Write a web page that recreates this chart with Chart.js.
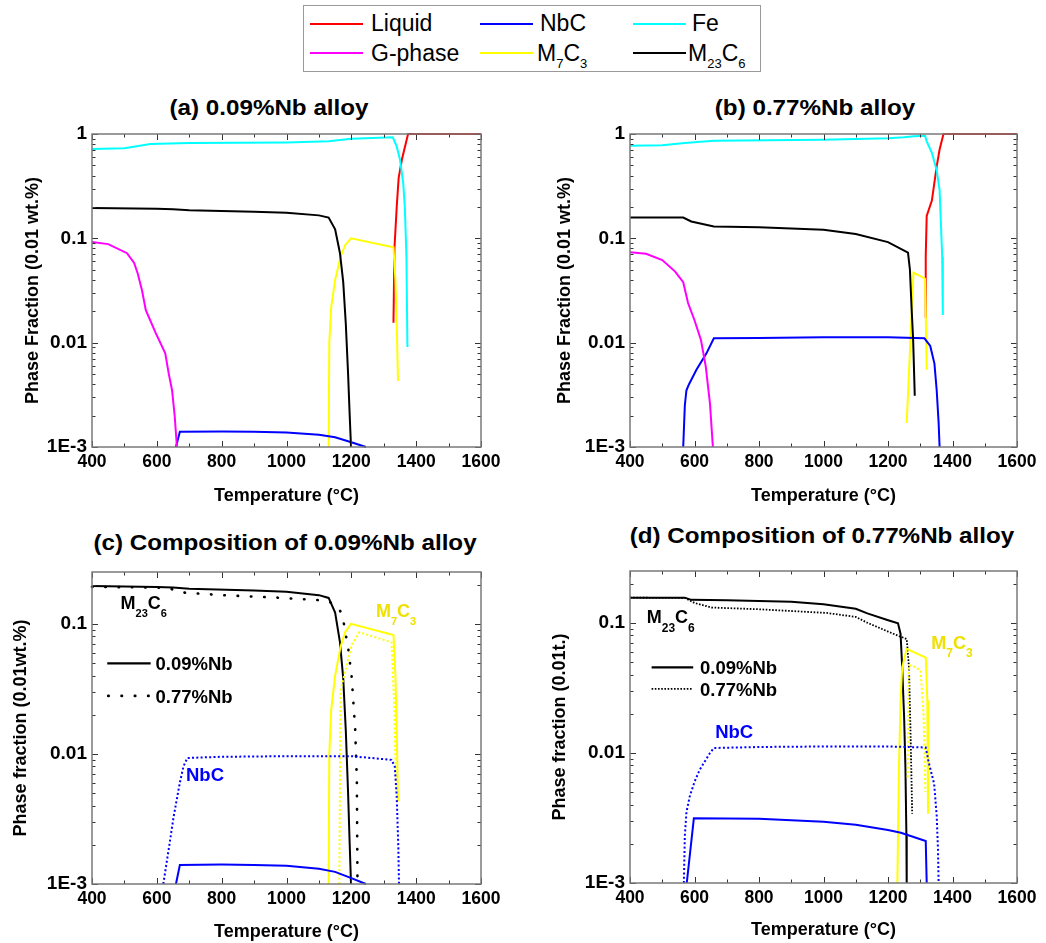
<!DOCTYPE html>
<html>
<head>
<meta charset="utf-8">
<script src="https://cdn.jsdelivr.net/npm/chart.js@4.4.1/dist/chart.umd.min.js"></script>
<style>
body { margin: 0; background: #fff; width: 1046px; height: 943px; position: relative; overflow: hidden; font-family: "Liberation Sans", Arial, sans-serif; }
canvas { position: absolute; }
.title { position: absolute; font-weight: bold; font-size: 22px; line-height: 22px; white-space: nowrap; transform: translateX(-50%) scaleX(1.1); }
#legend { position: absolute; left: 303px; top: 5px; width: 458px; height: 67px; border: 1px solid #999; box-sizing: border-box; }
.key { position: absolute; height: 2px; width: 53px; }
.lab { position: absolute; font-size: 23px; line-height: 23px; white-space: nowrap; }
.s { font-size: 13px; position: relative; top: 7px; }
</style>
</head>
<body>
<div id="legend">
  <div class="key" style="left:6px;top:17px;background:#ff0000"></div><span class="lab" style="left:67px;top:6px">Liquid</span>
  <div class="key" style="left:176px;top:17px;background:#0000ff"></div><span class="lab" style="left:236px;top:6px">NbC</span>
  <div class="key" style="left:329px;top:17px;background:#00ffff"></div><span class="lab" style="left:388px;top:6px">Fe</span>
  <div class="key" style="left:6px;top:46px;background:#ff00ff"></div><span class="lab" style="left:67px;top:36px">G-phase</span>
  <div class="key" style="left:176px;top:46px;background:#ffff00"></div><span class="lab" style="left:233px;top:36px">M<span class="s">7</span>C<span class="s">3</span></span>
  <div class="key" style="left:329px;top:46px;background:#000000"></div><span class="lab" style="left:384px;top:36px">M<span class="s">23</span>C<span class="s">6</span></span>
</div>
<div class="title" style="left:269px;top:97px">(a) 0.09%Nb alloy</div>
<div class="title" style="left:815px;top:97px">(b) 0.77%Nb alloy</div>
<div class="title" style="left:285px;top:532px">(c) Composition of 0.09%Nb alloy</div>
<div class="title" style="left:822px;top:525px">(d) Composition of 0.77%Nb alloy</div>
<canvas id="pa"></canvas>
<canvas id="pb"></canvas>
<canvas id="pc"></canvas>
<canvas id="pd"></canvas>
<script>
// axis ticks
const X_TICKS = [400, 600, 800, 1000, 1200, 1400, 1600];
const Y_TICKS = [0.001, 0.01, 0.1, 1];
const Y_LABELS = ['1E-3', '0.01', '0.1', '1'];

// (a) 0.09%Nb alloy: [temperature, phase fraction]
const A_LIQUID = [[1330, 0.0155], [1333, 0.08], [1340, 0.2], [1346, 0.38], [1356, 0.57], [1375, 1], [1600, 1]];
const A_NBC = [[659, 0.001], [671, 0.0014], [800, 0.00141], [900, 0.0014], [1000, 0.00138], [1100, 0.00131], [1150, 0.00124], [1200, 0.00111], [1245, 0.001]];
const A_FE = [[400, 0.72], [500, 0.73], [580, 0.8], [700, 0.82], [1000, 0.83], [1130, 0.85], [1200, 0.9], [1328, 0.93], [1340, 0.76], [1350, 0.57], [1360, 0.34], [1365, 0.2], [1370, 0.067], [1373, 0.0091]];
const A_GPHASE = [[400, 0.092], [450, 0.088], [508, 0.072], [530, 0.058], [541, 0.046], [554, 0.032], [566, 0.0205], [596, 0.0125], [626, 0.0079], [637, 0.005], [647, 0.0035], [655, 0.002], [662, 0.001]];
const A_M7C3 = [[1130, 0.001], [1132, 0.01], [1138, 0.022], [1150, 0.04], [1167, 0.067], [1181, 0.086], [1199, 0.1], [1330, 0.082], [1336, 0.04], [1340, 0.015], [1344, 0.0043]];
const A_M23C6 = [[400, 0.195], [600, 0.192], [650, 0.19], [700, 0.186], [900, 0.18], [1000, 0.176], [1100, 0.166], [1130, 0.158], [1150, 0.122], [1165, 0.072], [1175, 0.038], [1183, 0.015], [1190, 0.005], [1195, 0.002], [1199, 0.001]];

// (b) 0.77%Nb alloy
const B_LIQUID = [[1315, 0.0173], [1317, 0.067], [1320, 0.164], [1336, 0.23], [1351, 0.49], [1360, 0.71], [1372, 1], [1600, 1]];
const B_NBC = [[565, 0.001], [570, 0.0025], [575, 0.0035], [583, 0.004], [606, 0.0055], [637, 0.0079], [660, 0.011], [800, 0.0111], [1000, 0.0113], [1200, 0.0113], [1313, 0.011], [1331, 0.0093], [1344, 0.0063], [1351, 0.0035], [1357, 0.0017], [1360, 0.001]];
const B_FE = [[400, 0.773], [500, 0.78], [570, 0.82], [660, 0.86], [1000, 0.88], [1200, 0.91], [1250, 0.93], [1280, 0.95], [1315, 0.96], [1320, 0.85], [1336, 0.66], [1351, 0.45], [1360, 0.29], [1364, 0.14], [1368, 0.067], [1370, 0.0184]];
const B_GPHASE = [[400, 0.0736], [450, 0.071], [500, 0.062], [540, 0.048], [565, 0.038], [580, 0.024], [600, 0.0164], [620, 0.0106], [635, 0.0059], [648, 0.0026], [657, 0.001]];
const B_M7C3 = [[1258, 0.0017], [1279, 0.047], [1315, 0.041], [1320, 0.0055]];
const B_M23C6 = [[400, 0.158], [565, 0.158], [590, 0.145], [660, 0.13], [800, 0.128], [1000, 0.121], [1100, 0.11], [1200, 0.092], [1262, 0.073], [1268, 0.05], [1273, 0.022], [1278, 0.0106], [1283, 0.0031]];

// (c) composition of the 0.09%Nb alloy, dotted = 0.77%Nb
const C_M23C6_077 = [[400, 0.192], [600, 0.19], [641, 0.186], [680, 0.174], [800, 0.166], [967, 0.159], [1100, 0.152], [1130, 0.148], [1150, 0.14], [1167, 0.124], [1177, 0.1], [1191, 0.063], [1201, 0.039], [1212, 0.0153], [1217, 0.0063], [1219, 0.001]];
const C_M7C3_077 = [[1163, 0.001], [1165, 0.008], [1167, 0.031], [1185, 0.047], [1201, 0.069], [1225, 0.086], [1324, 0.072], [1332, 0.025], [1338, 0.006]];
const C_NBC_077 = [[620, 0.001], [640, 0.0021], [651, 0.0032], [661, 0.0044], [671, 0.006], [682, 0.008], [694, 0.0093], [800, 0.0095], [1000, 0.0096], [1200, 0.0096], [1324, 0.009], [1334, 0.008], [1340, 0.0047], [1345, 0.0019], [1347, 0.001]];

// (d) composition of the 0.77%Nb alloy
const D_M23C6_009 = [[400, 0.156], [570, 0.156], [590, 0.15], [700, 0.149], [900, 0.145], [1000, 0.139], [1100, 0.128], [1136, 0.118], [1198, 0.105], [1231, 0.099], [1239, 0.082], [1244, 0.0455], [1250, 0.0188], [1254, 0.0078], [1257, 0.0024], [1258, 0.001]];
const D_M7C3_009 = [[1229, 0.001], [1234, 0.0078], [1239, 0.0253], [1244, 0.0455], [1258, 0.063], [1317, 0.054], [1322, 0.0253], [1324, 0.0034]];
const D_NBC_009 = [[576, 0.001], [598, 0.00314], [800, 0.00312], [1000, 0.00296], [1100, 0.0028], [1200, 0.00255], [1240, 0.00243], [1317, 0.0021], [1320, 0.001]];
const D_M23C6_077 = [[400, 0.156], [571, 0.155], [600, 0.142], [653, 0.131], [800, 0.127], [1010, 0.119], [1100, 0.111], [1136, 0.1], [1198, 0.086], [1234, 0.079], [1258, 0.075], [1265, 0.0455], [1270, 0.014], [1275, 0.0034]];
const D_M7C3_077 = [[1261, 0.0065], [1263, 0.03], [1266, 0.047], [1276, 0.047], [1301, 0.043], [1310, 0.02], [1316, 0.005]];
const D_NBC_077 = [[567, 0.001], [570, 0.0023], [575, 0.0035], [585, 0.0046], [600, 0.006], [616, 0.0074], [647, 0.0099], [660, 0.0109], [800, 0.0111], [1000, 0.0112], [1200, 0.0112], [1317, 0.011], [1327, 0.0083], [1343, 0.0058], [1351, 0.0033], [1355, 0.0018], [1357, 0.001]];

const RED = '#ff0000', BLUE = '#0000ff', CYAN = '#00ffff', MAGENTA = '#ff00ff', YELLOW = '#ffff00', BLACK = '#000000';
const FONT = '"Liberation Sans", Arial, sans-serif';
const DOTS_WIDE = [0.5, 12.8];
const DOTS_FINE = [2, 2.3];

function line(data, color, dash, width, cap) {
  return {
    data: data.map(p => ({ x: p[0], y: p[1] })),
    borderColor: color,
    borderWidth: width || 2,
    borderDash: dash || [],
    borderCapStyle: cap || 'butt',
    pointRadius: 0,
    tension: 0,
    fill: false,
    clip: 2
  };
}

// draw "M", "23", "C", "6" style text with subscripts
function richText(ctx, x, y, parts, color) {
  ctx.fillStyle = color;
  ctx.textBaseline = 'alphabetic';
  ctx.textAlign = 'left';
  for (const [t, size, dy] of parts) {
    ctx.font = 'bold ' + size + 'px ' + FONT;
    ctx.fillText(t, x, y + dy);
    x += ctx.measureText(t).width;
  }
}

function framePlugin(notes) {
  return {
    id: 'frame',
    afterDraw(chart) {
      const { ctx, chartArea: a, scales: { x, y } } = chart;
      ctx.save();
      ctx.strokeStyle = '#333';
      ctx.lineWidth = 1;
      ctx.beginPath();
      for (let t = 400; t <= 1600; t += 100) {
        const px = Math.round(x.getPixelForValue(t)) + 0.5;
        const len = t % 200 === 0 ? 6 : 3.5;
        ctx.moveTo(px, a.bottom); ctx.lineTo(px, a.bottom - len);
        ctx.moveTo(px, a.top); ctx.lineTo(px, a.top + len);
      }
      for (let e = -3; e <= 0; e++) {
        for (let k = 1; k < 10; k++) {
          const v = k * Math.pow(10, e);
          if (v > y.max * 1.0001) break;
          const py = Math.round(y.getPixelForValue(v)) + 0.5;
          const len = k === 1 ? 6 : 3.5;
          ctx.moveTo(a.left, py); ctx.lineTo(a.left + len, py);
          ctx.moveTo(a.right, py); ctx.lineTo(a.right - len, py);
        }
      }
      ctx.stroke();
      ctx.strokeStyle = '#7a7a7a';
      ctx.lineWidth = 1.5;
      ctx.strokeRect(a.left, a.top, a.width, a.height);

      if (notes) {
        for (const n of notes.labels) {
          richText(ctx, x.getPixelForValue(n.x), y.getPixelForValue(n.y), n.parts, n.color);
        }
        for (const k of notes.keys) {
          const py = y.getPixelForValue(k.y);
          ctx.beginPath();
          ctx.strokeStyle = BLACK;
          ctx.lineWidth = k.width;
          ctx.lineCap = k.cap;
          ctx.setLineDash(k.dash);
          ctx.moveTo(x.getPixelForValue(k.x1), py);
          ctx.lineTo(x.getPixelForValue(k.x2), py);
          ctx.stroke();
          ctx.setLineDash([]);
          richText(ctx, x.getPixelForValue(k.tx), y.getPixelForValue(k.ty), [[k.text, 18.5, 0]], BLACK);
        }
      }
      ctx.restore();
    }
  };
}

function makePanel(id, box, area, cfg) {
  const canvas = document.getElementById(id);
  canvas.width = box.w;
  canvas.height = box.h;
  canvas.style.left = box.left + 'px';
  canvas.style.top = box.top + 'px';
  const yW = area.left - box.left;
  const xH = box.top + box.h - area.bottom;
  const xTickFont = { family: FONT, size: 17.5, weight: 'bold' };
  const yTickFont = { family: FONT, size: 19, weight: 'bold' };
  const titleFont = { family: FONT, size: 18, weight: 'bold' };
  return new Chart(canvas, {
    type: 'line',
    data: { datasets: cfg.datasets },
    plugins: [framePlugin(cfg.notes)],
    options: {
      responsive: false,
      animation: false,
      devicePixelRatio: 1,
      layout: { padding: { left: 0, bottom: 0, top: area.top - box.top, right: box.left + box.w - area.right } },
      plugins: { legend: { display: false }, tooltip: { enabled: false }, title: { display: false } },
      scales: {
        x: {
          type: 'linear', min: 400, max: 1600,
          afterBuildTicks: s => { s.ticks = X_TICKS.map(v => ({ value: v })); },
          afterFit: s => { s.height = xH; },
          ticks: { font: xTickFont, color: '#000', padding: 5, maxRotation: 0, autoSkip: false, callback: v => String(v) },
          grid: { display: false, drawTicks: false },
          border: { display: false },
          title: { display: true, text: 'Temperature (°C)', font: titleFont, color: '#000', padding: { top: 0, bottom: cfg.xPad } }
        },
        y: {
          type: 'logarithmic', min: 0.001, max: cfg.yMax,
          afterBuildTicks: s => { s.ticks = Y_TICKS.filter(v => v <= cfg.yMax).map(v => ({ value: v })); },
          afterFit: s => { s.width = yW; },
          ticks: { font: yTickFont, color: '#000', padding: 5, autoSkip: false, callback: (v, i) => Y_LABELS[i] },
          grid: { display: false, drawTicks: false },
          border: { display: false },
          title: { display: true, text: cfg.yTitle, font: titleFont, color: '#000', padding: { top: cfg.yPad, bottom: 0 } }
        }
      }
    }
  });
}

makePanel('pa', { left: 0, top: 80, w: 520, h: 440 }, { left: 92, top: 134, right: 481, bottom: 447 }, {
  yMax: 1, yTitle: 'Phase Fraction (0.01 wt.%)', yPad: 22, xPad: 13,
  datasets: [
    line(A_FE, CYAN), line(A_M23C6, BLACK), line(A_GPHASE, MAGENTA),
    line(A_NBC, BLUE), line(A_M7C3, YELLOW), line(A_LIQUID, RED)
  ]
});

makePanel('pb', { left: 520, top: 80, w: 526, h: 440 }, { left: 630, top: 134, right: 1017, bottom: 447 }, {
  yMax: 1, yTitle: 'Phase Fraction (0.01 wt.%)', yPad: 34, xPad: 13,
  datasets: [
    line(B_FE, CYAN), line(B_M23C6, BLACK), line(B_GPHASE, MAGENTA),
    line(B_NBC, BLUE), line(B_M7C3, YELLOW), line(B_LIQUID, RED)
  ]
});

makePanel('pc', { left: 0, top: 520, w: 520, h: 423 }, { left: 92, top: 572, right: 481, bottom: 884 }, {
  yMax: 0.25, yTitle: 'Phase fraction (0.01wt.%)', yPad: 10, xPad: 0,
  datasets: [
    line(A_NBC, BLUE), line(C_NBC_077, BLUE, DOTS_FINE),
    line(A_M7C3, YELLOW), line(C_M7C3_077, YELLOW, DOTS_FINE),
    line(A_M23C6, BLACK), line(C_M23C6_077, BLACK, DOTS_WIDE, 2.6, 'round')
  ],
  notes: {
    labels: [
      { x: 488, y: 0.13, color: BLACK, parts: [['M', 18, 0], ['23', 11, 8], ['C', 18, 0], ['6', 11, 8]] },
      { x: 1276, y: 0.112, color: '#eee000', parts: [['M', 18, 0], ['7', 11, 8], ['C', 18, 0], ['3', 11, 8]] },
      { x: 690, y: 0.00624, color: BLUE, parts: [['NbC', 18.5, 0]] }
    ],
    keys: [
      { x1: 447, x2: 581, y: 0.0497, width: 2.2, cap: 'butt', dash: [], tx: 596, ty: 0.0441, text: '0.09%Nb' },
      { x1: 450, x2: 581, y: 0.0279, width: 2.6, cap: 'round', dash: DOTS_WIDE, tx: 596, ty: 0.0247, text: '0.77%Nb' }
    ]
  }
});

makePanel('pd', { left: 520, top: 520, w: 526, h: 423 }, { left: 630, top: 571, right: 1017, bottom: 883 }, {
  yMax: 0.25, yTitle: 'Phase fraction (0.01t.)', yPad: 29, xPad: 2,
  datasets: [
    line(D_NBC_009, BLUE), line(D_NBC_077, BLUE, DOTS_FINE),
    line(D_M7C3_009, YELLOW), line(D_M7C3_077, YELLOW, DOTS_FINE),
    line(D_M23C6_009, BLACK), line(D_M23C6_077, BLACK, [1.6, 1.6], 1.8)
  ],
  notes: {
    labels: [
      { x: 452, y: 0.0988, color: BLACK, parts: [['M', 18, 0], ['23', 12, 9], ['C', 18, 0], ['6', 12, 9]] },
      { x: 1334, y: 0.0629, color: '#eee000', parts: [['M', 18, 0], ['7', 12, 8], ['C', 18, 0], ['3', 12, 8]] },
      { x: 664, y: 0.0131, color: BLUE, parts: [['NbC', 18.5, 0]] }
    ],
    keys: [
      { x1: 467, x2: 596, y: 0.0454, width: 2.2, cap: 'butt', dash: [], tx: 617, ty: 0.0405, text: '0.09%Nb' },
      { x1: 467, x2: 596, y: 0.031, width: 1.8, cap: 'butt', dash: [1.6, 1.6], tx: 617, ty: 0.0276, text: '0.77%Nb' }
    ]
  }
});
</script>
</body>
</html>
